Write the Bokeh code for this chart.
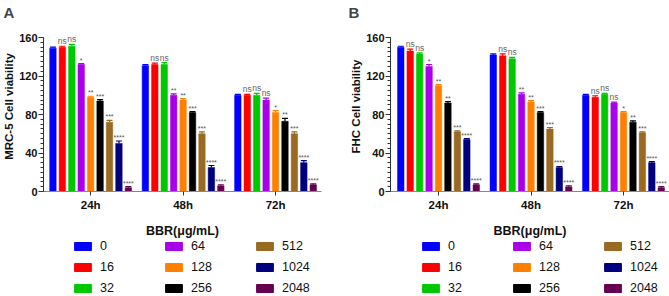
from bokeh.plotting import figure
from bokeh.models import (Range1d, SingleIntervalTicker, FixedTicker, Whisker, TeeHead,
                          ColumnDataSource, Legend, LegendItem)
from bokeh.layouts import row, column
from bokeh.embed import file_html
from bokeh.resources import INLINE
from bokeh.core.properties import value
import numpy as np

times = ["24h", "48h", "72h"]
concs = ["0", "16", "32", "64", "128", "256", "512", "1024", "2048"]
colors = ["#0000FF", "#FF0000", "#00C800", "#A800E8", "#FF8000",
          "#000000", "#9B6A22", "#00007F", "#660050"]

# Panel A: MRC-5
mrc5_24h = [149, 150, 151, 132, 98, 94, 72, 50, 4]
mrc5_48h = [131, 132, 132, 100, 95, 82, 60, 25, 6]
mrc5_72h = [100, 100, 100, 95, 82, 73, 60, 30, 7]
mrc5_err_24h = [1, 1, 2, 1, 1, 1.5, 2, 2.5, 1]
mrc5_err_48h = [1, 1.5, 2, 1.5, 1.5, 1, 2, 2, 1]
mrc5_err_72h = [1, 1, 2, 2, 2, 3, 2, 2, 1]
mrc5_sig_24h = ["", "ns", "ns", "*", "**", "***", "***", "****", "****"]
mrc5_sig_48h = ["", "ns", "ns", "**", "**", "***", "***", "****", "****"]
mrc5_sig_72h = ["", "ns", "ns", "ns", "*", "**", "***", "****", "****"]

# Panel B: FHC
fhc_24h = [150, 146, 143, 130, 110, 92, 62, 54, 7]
fhc_48h = [142, 141, 138, 101, 93, 82, 65, 25, 5]
fhc_72h = [100, 98, 101, 92, 82, 72, 61, 30, 4]
fhc_err_24h = [1, 2, 1, 2, 1, 1.5, 1, 1, 1]
fhc_err_48h = [1, 2, 1.5, 1.5, 1.5, 1, 1.5, 1, 1]
fhc_err_72h = [1, 1.5, 1, 1, 1, 1.5, 1, 1, 1]
fhc_sig_24h = ["", "ns", "ns", "*", "**", "**", "***", "****", "****"]
fhc_sig_48h = ["", "ns", "ns", "**", "**", "***", "***", "****", "****"]
fhc_sig_72h = ["", "ns", "ns", "ns", "*", "**", "***", "****", "****"]

FONT = "Liberation Sans"
STEP = 0.102
BW = 0.07
MAIN_H = 240
LEG_H = 56


def make_panel(letter, ylabel, vals, errs, sigs, width, mbl, mbr, xs, xe, title_off, leg_x):
    vals = np.array(vals, dtype=float)
    errs = np.array(errs, dtype=float)
    p = figure(width=width, height=MAIN_H, x_range=Range1d(xs, xe), y_range=Range1d(0, 176.7),
               output_backend="svg", toolbar_location=None,
               min_border_left=mbl, min_border_right=mbr, min_border_top=21, min_border_bottom=0)
    p.outline_line_color = None
    p.grid.visible = False
    p.background_fill_color = None
    p.border_fill_color = None

    ns_x, ns_y, ns_t = [], [], []
    st_x, st_y, st_t = [], [], []
    for j, c in enumerate(concs):
        x = np.arange(len(times)) + (j - 4) * STEP
        top = vals[:, j]
        up = top + errs[:, j]
        src = ColumnDataSource(dict(x=x, top=top, upper=up))
        p.vbar(x="x", top="top", width=BW, source=src, fill_color=colors[j],
               line_color=colors[j], line_width=0.5)
        w = Whisker(source=src, base="x", upper="upper", lower="top", dimension="height",
                    line_color=colors[j], line_width=1.2,
                    upper_head=TeeHead(size=6, line_color=colors[j], line_width=1.2),
                    lower_head=None)
        p.add_layout(w)
        for i in range(len(times)):
            s = sigs[i][j]
            if s == "ns":
                ns_x.append(x[i]); ns_y.append(up[i]); ns_t.append(s)
            elif s:
                st_x.append(x[i]); st_y.append(up[i]); st_t.append(s)

    p.text(x=ns_x, y=ns_y, text=ns_t, text_align="center", text_baseline="bottom",
           y_offset=0, text_font=value(FONT), text_font_size="8.5px", text_color="#666666")
    p.text(x=st_x, y=st_y, text=st_t, text_align="center", text_baseline="bottom",
           y_offset=0, text_font=value(FONT), text_font_size="7px", text_color="#555555")

    # x axis
    xa = p.xaxis[0]
    xa.ticker = FixedTicker(ticks=list(range(len(times))))
    xa.major_label_overrides = {i: t for i, t in enumerate(times)}
    xa.major_tick_in = 0
    xa.major_tick_out = 4
    xa.minor_tick_line_color = None
    xa.axis_line_color = "#888888"
    xa.major_tick_line_color = "#333333"
    xa.major_label_text_font = FONT
    xa.major_label_text_font_style = "bold"
    xa.major_label_text_font_size = "11.5px"
    xa.major_label_text_color = "#111111"
    xa.major_label_standoff = 3
    xa.axis_label = "BBR(μg/mL)"
    xa.axis_label_text_font = FONT
    xa.axis_label_text_font_style = "bold"
    xa.axis_label_text_font_size = "12.5px"
    xa.axis_label_text_color = "#111111"
    xa.axis_label_standoff = 10

    # y axis
    ya = p.yaxis[0]
    ya.ticker = SingleIntervalTicker(interval=40, num_minor_ticks=8)
    ya.bounds = (0, 160)
    ya.major_tick_in = 0
    ya.major_tick_out = 5
    ya.minor_tick_in = 0
    ya.minor_tick_out = 3
    ya.axis_line_color = "#333333"
    ya.major_tick_line_color = "#333333"
    ya.minor_tick_line_color = "#333333"
    ya.major_label_text_font = FONT
    ya.major_label_text_font_style = "bold"
    ya.major_label_text_font_size = "11px"
    ya.major_label_text_color = "#111111"
    ya.major_label_standoff = 1
    ya.axis_label = ylabel
    ya.axis_label_text_font = FONT
    ya.axis_label_text_font_style = "bold"
    ya.axis_label_text_font_size = "11.5px"
    ya.axis_label_text_color = "#111111"
    ya.axis_label_standoff = 1

    # panel letter
    p.title.text = letter
    p.title.text_font = FONT
    p.title.text_font_style = "bold"
    p.title.text_font_size = "15px"
    p.title.align = "left"
    p.title.offset = title_off
    p.title.standoff = 2

    # legend in its own strip below the plot
    lg = figure(width=width, height=LEG_H, x_range=Range1d(0, 1), y_range=Range1d(0, 1),
                output_backend="svg", toolbar_location=None,
                x_axis_type=None, y_axis_type=None,
                min_border=0)
    lg.outline_line_color = None
    lg.grid.visible = False
    lg.background_fill_color = None
    lg.border_fill_color = None
    items = []
    for j, c in enumerate(concs):
        # placeholder bar outside the visible range, only its legend swatch is shown
        r = lg.vbar(x=[0.5], top=[-2], bottom=[-3], width=0.1,
                    fill_color=colors[j], line_color=colors[j])
        items.append(LegendItem(label=c, renderers=[r]))
    legend = Legend(items=items, orientation="vertical", nrows=3, location=(leg_x, 0),
                    glyph_width=21, glyph_height=10, label_standoff=7, label_width=58,
                    label_height=16, spacing=5, padding=0, margin=0,
                    border_line_color=None, background_fill_alpha=0,
                    label_text_font=FONT, label_text_font_size="12.5px",
                    label_text_color="#111111")
    lg.add_layout(legend)
    return column(p, lg, spacing=0)


pA = make_panel("A", "MRC-5 Cell viability",
                [mrc5_24h, mrc5_48h, mrc5_72h], [mrc5_err_24h, mrc5_err_48h, mrc5_err_72h],
                [mrc5_sig_24h, mrc5_sig_48h, mrc5_sig_72h],
                335, 0, 14, -0.51, 2.497, -40, 29)
pB = make_panel("B", "FHC Cell viability",
                [fhc_24h, fhc_48h, fhc_72h], [fhc_err_24h, fhc_err_48h, fhc_err_72h],
                [fhc_sig_24h, fhc_sig_48h, fhc_sig_72h],
                334, 55, 0, -0.519, 2.497, -42, 30)

layout = row(pA, pB, spacing=0)
open("out.html", "w").write(file_html(layout, INLINE))
